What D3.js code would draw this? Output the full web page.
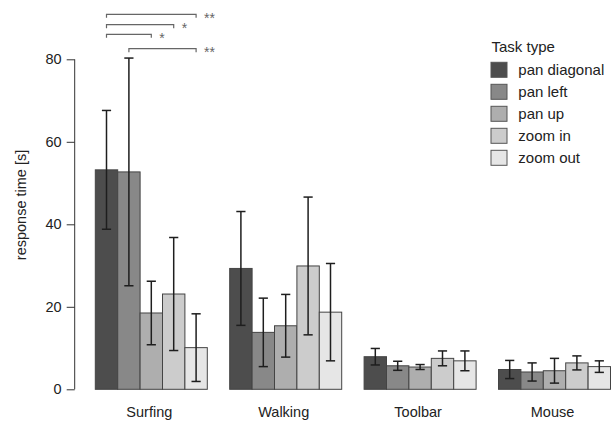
<!DOCTYPE html>
<html>
<head>
<meta charset="utf-8">
<script src="https://cdn.jsdelivr.net/npm/d3@7"></script>
<style>
  body { margin: 0; background: #fff; }
  svg { font-family: "Liberation Sans", Arial, Helvetica, sans-serif; }
</style>
</head>
<body>
<div id="chart"></div>
<script>
// -- data (means and SD of response time in seconds)
var groups = ["Surfing", "Walking", "Toolbar", "Mouse"];
var tasks = ["pan diagonal", "pan left", "pan up", "zoom in", "zoom out"];
var shades = ["#4d4d4d", "#888888", "#aeaeae", "#cccccc", "#e6e6e6"];

var means = {
  "Surfing": [53.2, 52.7, 18.5, 23.1, 10.1],
  "Walking": [29.3, 13.8, 15.4, 29.9, 18.7],
  "Toolbar": [7.9, 5.7, 5.4, 7.5, 6.9],
  "Mouse":   [4.8, 4.2, 4.5, 6.4, 5.5]
};
var sds = {
  "Surfing": [14.4, 27.6, 7.7, 13.7, 8.2],
  "Walking": [13.8, 8.3, 7.6, 16.7, 11.8],
  "Toolbar": [2.0, 1.1, 0.6, 1.8, 2.4],
  "Mouse":   [2.2, 2.2, 3.0, 1.7, 1.4]
};
var yTicks = [0, 20, 40, 60, 80];

// significance comparisons inside the Surfing group: [from task, to task, label]
var comparisons = [
  [0, 4, "**"],
  [0, 3, "*"],
  [0, 2, "*"],
  [1, 4, "**"]
];

// -- layout
var W = 612, H = 421;
var axisX = 74.7;
var bracketY = [14.3, 24.7, 34.3, 48.7];

var svg = d3.select("#chart").append("svg")
  .attr("width", W)
  .attr("height", H);

var y = d3.scaleLinear().domain([0, 80]).range([389.3, 59.3]);

var xGroup = d3.scaleBand()
  .domain(groups)
  .range([95.3, 610.5])
  .paddingInner(1 / 6)
  .paddingOuter(0);

var xTask = d3.scaleBand()
  .domain(tasks)
  .range([0, xGroup.bandwidth()])
  .padding(0);

var color = d3.scaleOrdinal().domain(tasks).range(shades);

// flatten for drawing
var rows = [];
groups.forEach(function (g) {
  tasks.forEach(function (t, i) {
    rows.push({group: g, task: t, mean: means[g][i], sd: sds[g][i]});
  });
});

// -- bars
svg.append("g").selectAll("rect").data(rows).enter().append("rect")
  .attr("x", function (d) { return xGroup(d.group) + xTask(d.task); })
  .attr("y", function (d) { return y(d.mean); })
  .attr("width", xTask.bandwidth())
  .attr("height", function (d) { return y(0) - y(d.mean); })
  .attr("fill", function (d) { return color(d.task); })
  .attr("stroke", "#444")
  .attr("stroke-width", 1);

// -- error bars
var capW = 4.6;
var err = svg.append("g")
  .attr("stroke", "#1e1e1e")
  .attr("stroke-width", 1.5)
  .attr("fill", "none");

rows.forEach(function (d) {
  var cx = xGroup(d.group) + xTask(d.task) + xTask.bandwidth() / 2;
  var top = y(d.mean + d.sd), bot = y(Math.max(0, d.mean - d.sd));
  err.append("line").attr("x1", cx).attr("x2", cx).attr("y1", top).attr("y2", bot);
  err.append("line").attr("x1", cx - capW).attr("x2", cx + capW).attr("y1", top).attr("y2", top);
  err.append("line").attr("x1", cx - capW).attr("x2", cx + capW).attr("y1", bot).attr("y2", bot);
});

// -- y axis
var yAxis = d3.axisLeft(y).tickValues(yTicks).tickSize(8).tickPadding(5);
var yg = svg.append("g")
  .attr("transform", "translate(" + axisX + ",0)")
  .call(yAxis);
yg.select(".domain").attr("stroke", "#333").attr("d", "M0," + y(0) + "V" + y(80));
yg.selectAll(".tick line").attr("stroke", "#333");
yg.selectAll(".tick text")
  .attr("fill", "#222")
  .style("font-size", "14.5px")
  .style("font-family", "'Liberation Sans', Arial, sans-serif");

svg.append("text")
  .attr("transform", "translate(26,205) rotate(-90)")
  .attr("text-anchor", "middle")
  .attr("fill", "#222")
  .style("font-size", "14.5px")
  .text("response time [s]");

// -- group labels
svg.append("g").selectAll("text").data(groups).enter().append("text")
  .attr("x", function (g) { return xGroup(g) + xGroup.bandwidth() / 2 - 2; })
  .attr("y", 417)
  .attr("text-anchor", "middle")
  .attr("fill", "#222")
  .style("font-size", "14.5px")
  .text(function (g) { return g; });

// -- significance brackets (Surfing)
var sig = svg.append("g");
comparisons.forEach(function (c, i) {
  var g0 = xGroup("Surfing");
  var xa = g0 + xTask(tasks[c[0]]) + xTask.bandwidth() / 2;
  var xb = g0 + xTask(tasks[c[1]]) + xTask.bandwidth() / 2;
  var by = bracketY[i];
  sig.append("path")
    .attr("d", "M" + xa + "," + (by + 3.5) + "V" + by + "H" + xb + "V" + (by + 3.5))
    .attr("fill", "none")
    .attr("stroke", "#666")
    .attr("stroke-width", 1.2);
  sig.append("text")
    .attr("x", xb + 8)
    .attr("y", by + 8.5)
    .attr("fill", "#666")
    .style("font-size", "14px")
    .text(c[2]);
});

// -- legend
var legend = svg.append("g").attr("transform", "translate(491,0)");
legend.append("text")
  .attr("x", 0.5)
  .attr("y", 52)
  .attr("fill", "#222")
  .style("font-size", "15px")
  .text("Task type");

var items = legend.selectAll("g.item").data(tasks).enter().append("g")
  .attr("class", "item")
  .attr("transform", function (d, i) { return "translate(0," + (62.3 + i * 22) + ")"; });
items.append("rect")
  .attr("width", 16)
  .attr("height", 15)
  .attr("fill", function (d) { return color(d); })
  .attr("stroke", "#555");
items.append("text")
  .attr("x", 27.3)
  .attr("y", 12.8)
  .attr("fill", "#222")
  .style("font-size", "15px")
  .text(function (d) { return d; });
</script>
</body>
</html>
